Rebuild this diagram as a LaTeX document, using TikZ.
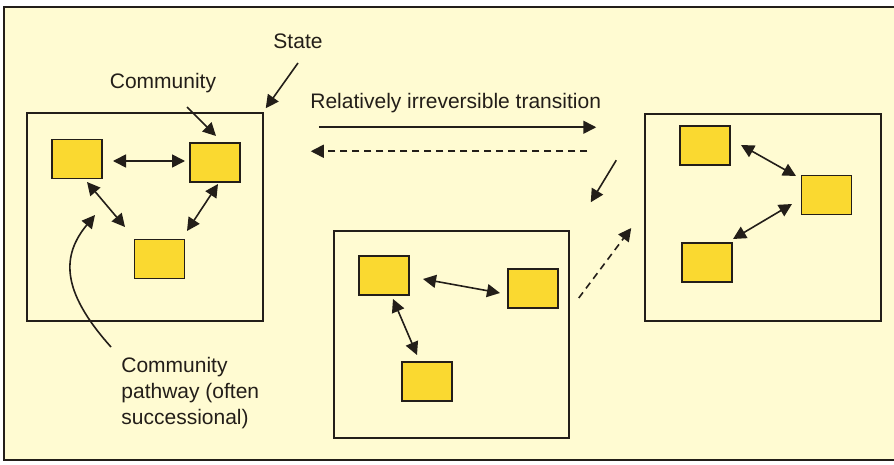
\documentclass[tikz,border=0pt]{standalone}
\usepackage{fontspec}
\setmainfont{Liberation Sans}
\usetikzlibrary{arrows.meta}
\definecolor{bgyellow}{RGB}{255,251,210}
\definecolor{boxyellow}{RGB}{250,217,48}
\definecolor{ink}{RGB}{35,30,25}
\tikzset{
  comm/.style={draw=ink, line width=0.8pt, fill=boxyellow, minimum width=25pt, minimum height=19.5pt, inner sep=0pt},
  statebox/.style={draw=ink, line width=0.75pt, inner sep=0pt},
  tip/.tip={Triangle[length=6.5pt,width=6.5pt]},
  dbl/.style={tip-tip, draw=ink, line width=0.8pt},
  sgl/.style={-tip, draw=ink, line width=0.8pt},
  dsh/.style={sgl, dash pattern=on 3.5pt off 2.5pt},
  lbl/.style={font=\fontsize{10.5}{13}\selectfont, text=ink, inner sep=0pt}
}
\begin{document}
\begin{tikzpicture}[x=0.5pt,y=-0.5pt]
\useasboundingbox (0,0) rectangle (894,465);
\fill[white] (0,0) rectangle (894,465);
\filldraw[fill=bgyellow, draw=ink, line width=0.9pt] (900,7) -- (4,7) -- (4,460) -- (900,460);
% states
\node[statebox, minimum width=118pt, minimum height=104pt] (S1) at (145,217) {};
\node[statebox, minimum width=117.5pt, minimum height=103.5pt] (S2) at (451.5,334.5) {};
\node[statebox, minimum width=118pt, minimum height=103.5pt] (S3) at (763,217.5) {};
% communities
\node[comm] (A) at (77,159) {};
\node[comm] (B) at (215,162.5) {};
\node[comm] (C) at (159.5,259) {};
\node[comm] (D) at (384,275.5) {};
\node[comm] (E) at (533,288.5) {};
\node[comm] (F) at (427,381.5) {};
\node[comm] (G) at (705,145.5) {};
\node[comm] (H) at (826.5,195) {};
\node[comm] (I) at (707,262.5) {};
% pathway arrows
\draw[dbl] ([shift={(36,2)}]A.center) -- ([shift={(-30,-1.5)}]B.center);
\draw[dbl] ([shift={(10,23)}]A.center) -- ([shift={(-34.5,-32)}]C.center);
\draw[dbl] ([shift={(3,21.5)}]B.center) -- ([shift={(27.5,-28)}]C.center);
\draw[dbl] ([shift={(39,3.5)}]D.center) -- ([shift={(-33,4.5)}]E.center);
\draw[dbl] ([shift={(9,23.5)}]D.center) -- ([shift={(-10,-26.5)}]F.center);
\draw[dbl] ([shift={(36,-0.5)}]G.center) -- ([shift={(-30.5,-19)}]H.center);
\draw[dbl] ([shift={(-34.5,9)}]H.center) -- ([shift={(26,-23.5)}]I.center);
% labels
\node[lbl] (state) at (298,41) {State};
\draw[sgl] ([shift={(0,22)}]state.center) -- ([shift={(2,-4)}]S1.north east);
\node[lbl] (community) at (163,83) {Community};
\draw[sgl] ([shift={(24,24)}]community.center) -- ([shift={(1,-26.5)}]B.center);
\node[lbl, anchor=west] (trans) at (310,103) {Relatively irreversible transition};
\node[lbl, anchor=west, align=left] (path) at (121,393) {Community\\pathway (often\\successional)};
\draw[sgl] ([shift={(-10,-46)}]path.west) .. controls ([shift={(-61,-103)}]path.west) and ([shift={(-59,-138)}]path.west) .. ([shift={(18,56)}]A.center);
% transitions
\draw[sgl] ([shift={(55,15)}]S1.north east) -- ([shift={(-48,14)}]S3.north west);
\draw[dsh] ([shift={(-57,38)}]S3.north west) -- ([shift={(47,39)}]S1.north east);
\draw[sgl] ([shift={(-28,47)}]S3.north west) -- ([shift={(21,-28)}]S2.north east);
\draw[dsh] ([shift={(9,-36.5)}]S2.east) -- ([shift={(-13,10.5)}]S3.west);
\end{tikzpicture}
\end{document}
